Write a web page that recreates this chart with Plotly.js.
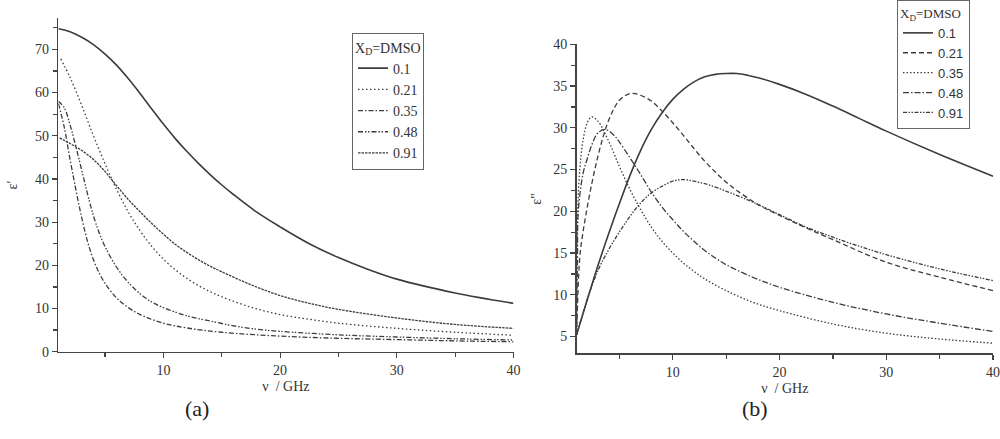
<!DOCTYPE html>
<html>
<head>
<meta charset="utf-8">
<script src="https://cdn.plot.ly/plotly-3.0.1.min.js"></script>
<style>
  html, body { margin: 0; padding: 0; background: #fff; }
  #chart { width: 1000px; height: 439px; }
</style>
</head>
<body>
<div id="chart"></div>
<script>
// legend labels: DMSO mole fraction
var names = ['0.1', '0.21', '0.35', '0.48', '0.91'];

// panel (a): eps' against frequency in GHz
var a01x = [1, 2, 3, 4, 5, 6, 7, 8, 9, 10, 11, 12, 13, 14, 15, 16, 18, 20, 22.5, 25, 27.5, 30, 35, 40];
var a01y = [74.8, 74.1, 72.8, 71.1, 68.9, 66.3, 63.2, 59.8, 56.2, 52.7, 49.4, 46.4, 43.6, 41, 38.6, 36.4, 32.3, 28.9, 25, 21.8, 19.1, 16.8, 13.6, 11.2];

var a021x = [1.2, 2, 3, 4, 5, 6, 7, 8, 9, 10, 11, 12, 13, 14, 15, 17.5, 20, 22.5, 25, 30, 35, 40];
var a021y = [67.8, 63.5, 57, 50, 43.5, 37.5, 32.3, 28, 24.4, 21.4, 19, 17, 15.3, 13.9, 12.7, 10.3, 8.6, 7.5, 6.6, 5.4, 4.5, 3.8];

var a035x = [1, 1.5, 2, 2.5, 3, 3.5, 4, 4.5, 5, 6, 7, 8, 10, 12, 15, 20, 25, 30, 35, 40];
var a035y = [57.5, 52, 44.5, 37.5, 31, 25.5, 21.3, 18.2, 15.8, 12.4, 10.2, 8.6, 6.6, 5.5, 4.5, 3.6, 3.1, 2.8, 2.5, 2.3];

var a048x = [1, 1.5, 2, 2.5, 3, 3.5, 4, 4.5, 5, 6, 7, 8, 9, 10, 12, 14, 16, 18, 20, 25, 30, 35, 40];
var a048y = [58, 56.5, 52.5, 47.5, 42, 36.5, 31.5, 27.5, 24.3, 19.5, 16, 13.4, 11.5, 10.2, 8.3, 7.1, 6, 5.2, 4.7, 3.9, 3.4, 3, 2.7];

var a091x = [1.1, 2, 3, 4, 5, 6, 7, 8, 9, 10, 11, 12, 13, 14, 15, 17.5, 20, 22.5, 25, 30, 35, 40];
var a091y = [49.5, 48.2, 46.6, 44.5, 41.7, 38.4, 35.2, 32.4, 29.7, 27.2, 24.9, 23, 21.3, 19.8, 18.5, 15.5, 13, 11.2, 9.8, 7.8, 6.3, 5.4];

// panel (b): eps''
var b01x = [1, 2, 3, 4, 5, 6, 7, 8, 9, 10, 11, 12, 13, 14, 15, 16, 17, 18, 20, 22.5, 25, 27.5, 30, 35, 40];
var b01y = [5.2, 9.4, 13.5, 17.3, 20.9, 24.3, 27.3, 29.8, 31.8, 33.4, 34.6, 35.5, 36.1, 36.4, 36.5, 36.5, 36.3, 36, 35.2, 34, 32.6, 31.1, 29.6, 26.8, 24.2];

var b021x = [1, 1.3, 1.6, 2, 2.5, 3, 3.5, 4, 4.5, 5, 5.5, 6, 6.5, 7, 8, 9, 10, 11, 12, 13, 14, 15, 16, 18, 20, 22.5, 25, 30, 35, 40];
var b021y = [5.2, 14.5, 17.5, 20.5, 23.8, 26.6, 29, 30.9, 32.3, 33.3, 33.8, 34.1, 34.1, 33.9, 33.2, 32, 30.6, 29.1, 27.5, 26, 24.7, 23.5, 22.5, 20.8, 19.5, 18, 16.6, 13.9, 12.1, 10.5];

var b035x = [1, 1.02, 1.1, 1.3, 1.6, 2, 2.4, 3, 4, 5, 6, 7, 8, 9, 10, 11, 12, 13, 15, 17.5, 20, 25, 30, 35, 40];
var b035y = [5.2, 14, 20, 25, 28.5, 30.6, 31.3, 30.8, 28.4, 25.4, 22.6, 20.2, 18.1, 16.4, 15, 13.8, 12.8, 11.9, 10.5, 9.1, 8.1, 6.5, 5.4, 4.7, 4.2];

var b048x = [1, 1.08, 1.16, 1.6, 2, 2.5, 3, 3.7, 4.5, 5, 6, 7, 8, 9, 10, 11, 12, 13, 14, 15, 17.5, 20, 25, 30, 35, 40];
var b048y = [5.2, 14, 20, 24.5, 26.3, 28.2, 29.4, 29.8, 29.1, 28.3, 26.4, 24.4, 22.3, 20.5, 19, 17.6, 16.4, 15.3, 14.4, 13.6, 12.1, 10.9, 9.1, 7.7, 6.6, 5.6];

var b091x = [1, 1.5, 2, 3, 4, 5, 6, 7, 8, 9, 10, 11, 12, 13, 14, 15, 16, 17.5, 20, 22.5, 25, 27.5, 30, 35, 40];
var b091y = [5.2, 7.4, 9.5, 12.9, 15.4, 17.5, 19.4, 21, 22.2, 23, 23.6, 23.8, 23.6, 23.3, 22.9, 22.4, 21.9, 21.1, 19.6, 18.1, 16.9, 15.8, 14.8, 13.1, 11.7];

var ink = '#3c3c3c';
var serif = 'Liberation Serif, serif';
var sans = 'Liberation Sans, Arial, sans-serif';

var dashA = ['solid', '1.5px,2.5px', '5px,2px,1.5px,2px', '5px,2px,1.5px,1.5px,1.5px,2px', '2.5px,1px'];
var dashB = ['solid', '5px,3px', '1.5px,2px', '6px,2px,1.5px,2px', '4px,1.5px,1.5px,1.5px,1.5px,1.5px'];

var seriesA = [[a01x, a01y], [a021x, a021y], [a035x, a035y], [a048x, a048y], [a091x, a091y]];
var seriesB = [[b01x, b01y], [b021x, b021y], [b035x, b035y], [b048x, b048y], [b091x, b091y]];

var data = [];
seriesA.forEach(function (s, i) {
  data.push({
    x: s[0], y: s[1], name: names[i], type: 'scatter', mode: 'lines',
    line: {color: ink, width: i === 0 ? 1.6 : 1.3, dash: dashA[i], shape: 'spline', smoothing: 1},
    xaxis: 'x', yaxis: 'y', legend: 'legend'
  });
});
seriesB.forEach(function (s, i) {
  data.push({
    x: s[0], y: s[1], name: names[i], type: 'scatter', mode: 'lines',
    line: {color: ink, width: i === 0 ? 1.6 : 1.3, dash: dashB[i], shape: 'spline', smoothing: 1},
    xaxis: 'x2', yaxis: 'y2', legend: 'legend2'
  });
});

function minorTicks(step) {
  return {ticks: 'outside', ticklen: 4, tickwidth: 1.2, tickcolor: '#444', tick0: 0, dtick: step};
}

function axis(extra) {
  var base = {
    showline: true, linecolor: '#444', linewidth: 1.5,
    showgrid: false, zeroline: false,
    ticks: 'outside', ticklen: 5, tickwidth: 1.2, tickcolor: '#444',
    ticklabeloverflow: 'allow',
    tickfont: {family: serif, size: 14, color: '#333'}
  };
  for (var k in extra) base[k] = extra[k];
  return base;
}

var titleFont = {family: serif, size: 14, color: '#333'};

var layout = {
  width: 1000, height: 439,
  margin: {l: 0, r: 0, t: 0, b: 0},
  paper_bgcolor: '#fff', plot_bgcolor: '#fff',
  showlegend: true,
  xaxis: axis({domain: [0.0584, 0.5135], range: [1, 40], tick0: 0, dtick: 10, minor: minorTicks(5),
    title: {text: 'ν  / GHz', font: titleFont, standoff: 4}, anchor: 'y'}),
  yaxis: axis({domain: [0.1989, 0.9583], range: [0, 77.2], tick0: 0, dtick: 10, minor: minorTicks(5),
    title: {text: 'ε′', font: titleFont, standoff: 14}, anchor: 'x'}),
  xaxis2: axis({domain: [0.5766, 0.9931], range: [1, 40], tick0: 0, dtick: 10, minor: minorTicks(5),
    title: {text: 'ν  / GHz', font: titleFont, standoff: 4}, anchor: 'y2'}),
  yaxis2: axis({domain: [0.1954, 0.8991], range: [3, 40], tick0: 0, dtick: 5, minor: minorTicks(2.5),
    title: {text: 'ε″', font: titleFont, standoff: 8}, anchor: 'x2'}),
  legend: {
    x: 0.352, y: 0.924, xanchor: 'left', yanchor: 'top',
    bgcolor: '#fff', bordercolor: '#666', borderwidth: 1,
    itemwidth: 30, tracegroupgap: 0,
    font: {family: serif, size: 14, color: '#333'},
    title: {text: 'X<sub>D</sub>=DMSO', font: {family: serif, size: 14, color: '#333'}}
  },
  legend2: {
    x: 0.897, y: 1.0, xanchor: 'left', yanchor: 'top',
    bgcolor: '#fff', bordercolor: '#666', borderwidth: 1,
    itemwidth: 30, tracegroupgap: 0,
    font: {family: sans, size: 13, color: '#333'},
    title: {text: 'X<sub>D</sub>=DMSO', font: {family: serif, size: 13, color: '#333'}}
  },
  annotations: [
    {text: '(a)', x: 0.183, y: 0.036, xref: 'paper', yref: 'paper', showarrow: false,
     font: {family: serif, size: 22, color: '#222'}},
    {text: '(b)', x: 0.770, y: 0.036, xref: 'paper', yref: 'paper', showarrow: false,
     font: {family: serif, size: 22, color: '#222'}}
  ]
};

Plotly.newPlot('chart', data, layout, {displayModeBar: false, staticPlot: true});
</script>
</body>
</html>
